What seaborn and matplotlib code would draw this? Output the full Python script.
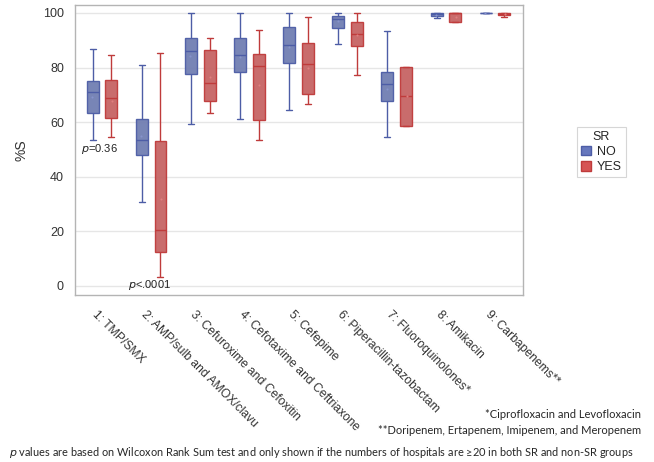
import numpy as np
import pandas as pd
import matplotlib
matplotlib.use("Agg")
import matplotlib.pyplot as plt
import matplotlib.patches as mpatches
import matplotlib.transforms as mtrans
import seaborn as sns

# Antibiotic classes on the x axis
categories = [
    "1: TMP/SMX",
    "2: AMP/sulb and AMOX/clavu",
    "3: Cefuroxime and Cefoxitin",
    "4: Cefotaxime and Ceftriaxone",
    "5: Cefepime",
    "6: Piperacillin-tazobactam",
    "7: Fluoroquinolones*",
    "8: Amikacin",
    "9: Carbapenems**",
]
groups = ["NO", "YES"]

# Five-number summaries of %S per hospital group (non-SR)
no_min = [53.4, 30.8, 59.4, 61.2, 64.4, 88.8, 54.5, 98.0, 100.0]
no_q1 = [63.2, 47.8, 77.6, 78.5, 81.6, 94.5, 67.9, 99.0, 100.0]
no_med = [71.0, 53.3, 86.0, 84.5, 88.1, 97.6, 73.8, 99.6, 100.0]
no_q3 = [75.1, 61.2, 90.9, 90.9, 94.9, 98.8, 78.2, 100.0, 100.0]
no_max = [86.7, 80.9, 100.0, 100.0, 100.0, 100.0, 93.4, 100.0, 100.0]
no_mean = [69.3, 54.9, 84.2, 83.7, 87.6, 97.0, 72.3, 99.4, 100.0]

# Five-number summaries of %S per hospital group (SR)
yes_min = [54.5, 3.4, 63.2, 53.3, 66.5, 77.3, 58.7, 96.6, 98.6]
yes_q1 = [61.5, 12.6, 67.9, 60.9, 70.3, 87.9, 58.7, 96.6, 99.1]
yes_med = [68.8, 20.4, 74.2, 80.4, 81.2, 92.2, 69.4, 100.0, 99.7]
yes_q3 = [75.5, 53.1, 86.5, 84.9, 89.0, 96.6, 80.1, 100.0, 100.0]
yes_max = [84.5, 85.4, 90.7, 93.9, 98.5, 100.0, 80.1, 100.0, 100.0]
yes_mean = [67.7, 31.7, 76.4, 73.5, 80.0, 92.0, 69.4, 98.5, 99.5]

# p-value annotations: (category position, y, comparison, value)
pvals = [(-0.06, 50.3, "=", "0.36"), (0.97, 0.2, "<", ".0001")]

fill_colors = {"NO": "#6677bd", "YES": "#d65454"}
edge_colors = {"NO": "#4d5da6", "YES": "#bf3b3b"}
mean_colors = {"NO": "#8793cc", "YES": "#e07f7f"}

# Long table: five points per box reproduce its quartiles exactly
rows = []
summaries = {
    "NO": (no_min, no_q1, no_med, no_q3, no_max),
    "YES": (yes_min, yes_q1, yes_med, yes_q3, yes_max),
}
for g, stats in summaries.items():
    for i, cat in enumerate(categories):
        for s in stats:
            rows.append({"cat": cat, "SR": g, "pct": s[i]})
df = pd.DataFrame(rows)

means = pd.DataFrame(
    [{"cat": c, "SR": "NO", "pct": m} for c, m in zip(categories, no_mean)]
    + [{"cat": c, "SR": "YES", "pct": m} for c, m in zip(categories, yes_mean)]
)

sns.set_style("white")
plt.rcParams["font.family"] = ["Liberation Sans", "DejaVu Sans"]

fig = plt.figure(figsize=(6.54, 4.62), dpi=100)
ax = fig.add_axes([75 / 654, 1 - 295 / 462, (523 - 75) / 654, (295 - 5) / 462])

ax.set_axisbelow(True)
ax.yaxis.grid(True, color="#e6e6e6", lw=1.0)

sns.boxplot(
    data=df, x="cat", y="pct", hue="SR", order=categories, hue_order=groups,
    palette=fill_colors, whis=(0, 100), width=0.76, gap=0.36,
    linewidth=1.0, showfliers=False, legend=False, ax=ax,
)

for cont, g in zip(ax.containers, groups):
    ec = edge_colors[g]
    for b in cont.boxes:
        b.set_edgecolor(ec)
        b.set_alpha(0.95)
    for ln in list(cont.whiskers) + list(cont.caps) + list(cont.medians):
        ln.set_color(ec)
        ln.set_linewidth(1.0)

sns.stripplot(
    data=means, x="cat", y="pct", hue="SR", order=categories, hue_order=groups,
    palette=mean_colors, dodge=True, jitter=False, size=1.5, marker="o",
    linewidth=0, legend=False, ax=ax,
)

ax.set_xlim(-0.55, 8.57)
ax.set_ylim(-3.3, 102.9)
ax.set_yticks([0, 20, 40, 60, 80, 100])
ax.tick_params(axis="y", labelsize=9, labelcolor="#333333", length=4.5,
               width=0.8, color="#b4b4b4", pad=3.5)
ax.tick_params(axis="x", length=4, width=0.8, color="#b4b4b4")
for sp in ax.spines.values():
    sp.set_color("#b4b4b4")
    sp.set_linewidth(1.0)

ax.set_xlabel("")
ax.set_ylabel("%S", fontsize=10, color="#333333", labelpad=10)

ax.set_xticks(range(len(categories)))
ax.set_xticklabels(categories, rotation=-45, ha="left", va="top",
                   rotation_mode="anchor", fontsize=8.7, color="#333333")
offset = mtrans.ScaledTranslation(-4 / 100, -3 / 100, fig.dpi_scale_trans)
for lbl in ax.get_xticklabels():
    lbl.set_transform(lbl.get_transform() + offset)

# p-value labels under the first two category groups
for xpos, yv, op, num in pvals:
    ax.text(xpos, yv, r"$\it{p}$" + op + num, fontsize=8, color="#222222",
            ha="center", va="center")

# Legend
handles = [mpatches.Patch(facecolor=fill_colors[g], edgecolor=edge_colors[g],
                          label=g) for g in groups]
leg = fig.legend(handles=handles, title="SR", loc="upper left",
                 bbox_to_anchor=(577 / 654, 1 - 127 / 462),
                 frameon=True, fancybox=False, fontsize=9, title_fontsize=9,
                 handlelength=0.8, handleheight=0.8, handletextpad=0.5,
                 borderpad=0.3, labelspacing=0.25, borderaxespad=0)
leg.get_frame().set_edgecolor("#cccccc")
leg.get_frame().set_linewidth(0.8)

# Footnotes
foot_font = ["Lato", "DejaVu Sans"]
fig.text(641 / 654, 1 - 414 / 462, "*Ciprofloxacin and Levofloxacin",
         ha="right", va="center", fontsize=8, family=foot_font)
fig.text(641 / 654, 1 - 431 / 462,
         "**Doripenem, Ertapenem, Imipenem, and Meropenem",
         ha="right", va="center", fontsize=8, family=foot_font)
fig.text(9 / 654, 1 - 453 / 462,
         r"$\it{p}$ values are based on Wilcoxon Rank Sum test and only shown "
         "if the numbers of hospitals are \u226520 in both SR and non-SR groups",
         ha="left", va="center", fontsize=7.9, family=foot_font)

fig.savefig("out.png", dpi=100)
